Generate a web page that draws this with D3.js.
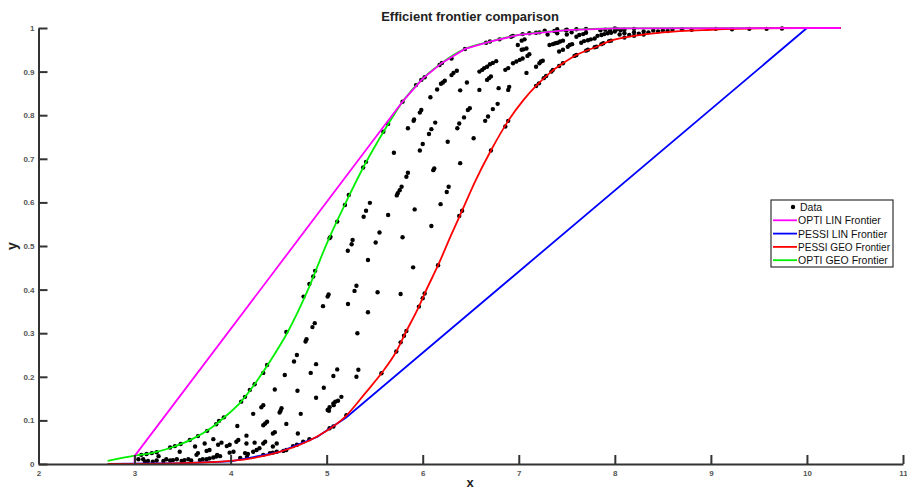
<!DOCTYPE html>
<html>
<head>
  <meta charset="utf-8">
  <title>Efficient frontier comparison</title>
  <script src="https://cdn.jsdelivr.net/npm/d3@7/dist/d3.min.js"></script>
  <style>
    body { margin: 0; background: #fff; }
    svg text { font-family: Arial, "Liberation Sans", sans-serif; }
  </style>
</head>
<body>
<svg id="chart" width="907" height="490"></svg>
<script>
// ---- data ----
var xTicks = [2, 3, 4, 5, 6, 7, 8, 9, 10, 11];
var yTicks = [0, 0.1, 0.2, 0.3, 0.4, 0.5, 0.6, 0.7, 0.8, 0.9, 1];
var yTickLabels = ["0", "0.1", "0.2", "0.3", "0.4", "0.5", "0.6", "0.7", "0.8", "0.9", "1"];

var legendNames = ["Data", "OPTI LIN Frontier", "PESSI LIN Frontier", "PESSI GEO Frontier", "OPTI GEO Frontier"];

// OPTI GEO frontier (green)
var optiGeo = [[2.72,0.007],[3.0,0.019],[3.2,0.026],[3.4,0.039],[3.6,0.057],[3.8,0.083],[3.95,0.11],
  [4.1,0.141],[4.25,0.183],[4.4,0.232],[4.6,0.305],[4.8,0.397],[5.0,0.505],[5.2,0.6],[5.4,0.688],
  [5.6,0.765],[5.8,0.834],[6.0,0.884],[6.2,0.92],[6.44,0.952],[6.7,0.969],[7.0,0.984],[7.5,0.995],
  [8.0,0.999],[10.35,1.0]];
// OPTI LIN frontier (magenta)
var optiLin = [[3.0,0.0],[3.0,0.018],[5.7,0.805],[5.8,0.834],[6.0,0.884],[6.2,0.92],[6.44,0.952],
  [6.7,0.969],[7.0,0.984],[7.5,0.995],[8.0,0.999],[10.35,1.0]];
// PESSI GEO frontier (red)
var pessiGeo = [[2.72,0.0],[3.5,0.002],[4.0,0.007],[4.5,0.027],[4.9,0.063],[5.2,0.11],[5.4,0.162],
  [5.57,0.208],[5.725,0.258],[5.83,0.305],[5.96,0.361],[6.02,0.391],[6.16,0.456],[6.3,0.527],
  [6.41,0.581],[6.55,0.65],[6.71,0.719],[6.89,0.787],[7.05,0.835],[7.18,0.867],[7.34,0.9],
  [7.46,0.919],[7.6,0.938],[7.81,0.957],[7.96,0.971],[8.2,0.982],[8.5,0.99],[9.0,0.996],
  [9.5,0.999],[10.35,1.0]];
// PESSI LIN frontier (blue)
var pessiLin = [[2.72,0.0],[3.5,0.002],[4.0,0.006],[4.5,0.027],[4.9,0.062],[5.0,0.077],[5.2,0.106],
  [10.0,1.0],[10.35,1.0]];

// scattered data points
var dataPts = [
  [3.04,0.011],[3.09,0.011],[3.11,0.005],[3.14,0.007],[3.19,0.005],[3.23,0.008],[3.25,0.018],
  [3.30,0.007],[3.33,0.011],[3.37,0.008],[3.40,0.009],[3.44,0.011],[3.47,0.028],[3.49,0.007],
  [3.52,0.009],[3.56,0.011],[3.59,0.008],[3.645,0.021],[3.66,0.025],[3.63,0.040],[3.68,0.009],
  [3.71,0.011],[3.75,0.011],[3.78,0.013],[3.82,0.015],[3.85,0.017],[3.89,0.018],[3.75,0.030],
  [3.78,0.032],[3.82,0.057],[3.73,0.047],[3.87,0.044],[3.905,0.049],[3.96,0.041],[3.99,0.044],
  [3.99,0.026],[4.03,0.028],[4.06,0.051],[4.08,0.055],[4.07,0.087],[4.165,0.065],[4.235,0.115],
  [4.235,0.028],[4.27,0.032],[4.30,0.036],[4.165,0.047],[4.25,0.049],[4.34,0.047],[4.36,0.051],
  [4.34,0.089],[4.36,0.093],[4.44,0.070],[4.46,0.073],[4.34,0.135],[4.32,0.13],[4.52,0.122],
  [4.53,0.128],[4.58,0.092],[4.48,0.047],[4.70,0.070],[4.73,0.115],[4.34,0.021],[4.41,0.025],
  [4.44,0.026],[4.48,0.028],[4.55,0.030],[4.58,0.032],[4.65,0.041],[4.69,0.044],[4.755,0.051],
  [4.82,0.057],[5.03,0.082],[5.07,0.086],[5.01,0.124],[5.03,0.13],[5.07,0.139],[5.09,0.143],
  [5.205,0.112],[4.15,0.025],[4.18,0.023],[4.44,0.040],[4.1,0.014],[4.17,0.016],[3.86,0.021],
  [4.962,0.362],[5.222,0.367],[4.876,0.323],[4.852,0.314],[5.32,0.30],[4.79,0.286],[4.78,0.281],
  [4.69,0.25],[4.66,0.235],[4.89,0.229],[4.834,0.209],[5.11,0.217],[5.07,0.202],[5.33,0.216],
  [5.31,0.20],[4.564,0.204],[4.46,0.171],[4.696,0.168],[4.97,0.175],[4.89,0.152],[5.153,0.154],
  [5.118,0.145],[5.073,0.135],[5.024,0.122],[4.51,0.118],[4.38,0.097],
  [5.905,0.787],[5.846,0.77],[6.13,0.783],[6.09,0.768],[6.065,0.757],[6.0,0.734],[5.97,0.719],
  [6.26,0.739],[5.70,0.714],[6.12,0.678],[6.11,0.674],[5.846,0.668],[5.83,0.659],[5.78,0.636],
  [5.76,0.628],[5.74,0.621],[5.73,0.616],[6.27,0.636],[6.25,0.624],[5.45,0.599],[5.41,0.581],
  [5.385,0.567],[5.916,0.584],[5.64,0.571],[6.186,0.596],[6.09,0.546],[5.55,0.531],[5.51,0.508],
  [5.27,0.514],[5.26,0.504],[5.22,0.489],[5.79,0.52],[5.43,0.468],[5.90,0.451],[5.31,0.409],
  [5.29,0.397],[5.53,0.394],[5.77,0.39],[5.02,0.389],[5.01,0.384],[5.43,0.348],
  [5.985,0.812],[5.97,0.806],[5.91,0.79],[6.49,0.816],[6.47,0.812],[6.43,0.795],[6.38,0.781],
  [6.36,0.77],[6.78,0.826],[6.73,0.814],[6.68,0.797],[6.65,0.787],[6.53,0.747],[6.39,0.69],
  [6.08,0.841],[6.15,0.859],[6.19,0.872],[6.21,0.875],[6.23,0.879],[6.30,0.892],[6.32,0.897],
  [6.355,0.902],[6.39,0.857],[6.46,0.875],[6.59,0.90],[6.62,0.904],[6.64,0.908],[6.67,0.911],
  [6.70,0.917],[6.73,0.92],[6.765,0.924],[6.59,0.858],[6.67,0.881],[6.69,0.885],[6.71,0.889],
  [6.79,0.862],[6.89,0.858],[6.90,0.865],[6.86,0.904],[6.89,0.908],[6.94,0.919],[6.975,0.923],
  [7.01,0.927],[7.04,0.93],[7.03,0.95],[7.05,0.951],[7.08,0.953],[6.99,0.961],[7.03,0.971],
  [7.06,0.974],[7.08,0.897],[7.09,0.936],[7.11,0.94],[7.18,0.911],[7.215,0.919],[7.23,0.923],
  [7.25,0.925],[7.32,0.961],[7.355,0.963],[7.38,0.965],[7.405,0.966],[7.43,0.969],[7.46,0.971],
  [7.42,0.946],[7.46,0.95],[7.27,0.994],[7.51,0.957],[7.53,0.961],[7.555,0.963],[7.60,0.98],
  [7.63,0.984],[7.67,0.986],[7.70,0.989],[7.65,0.966],[7.68,0.97],[7.72,0.972],[7.75,0.974],
  [7.79,0.976],[7.82,0.982],[7.86,0.984],[7.89,0.986],[7.925,0.988],[7.96,0.989],[8.0,0.992],
  [7.85,0.995],[7.9,0.996],[7.95,0.994],[8.02,0.997],[8.06,0.995],[8.1,0.996],
  [8.05,0.985],[8.1,0.988],[8.15,0.984],[8.2,0.99],[8.25,0.987],[8.3,0.992],[8.35,0.99],
  [8.4,0.994],[8.45,0.992],[8.5,0.995],[8.55,0.993],[8.1,0.978],[8.2,0.982],[8.3,0.985],
  [8.6,0.996],[8.7,0.997],[8.8,0.996],[9.05,0.998],[9.22,0.997],[9.4,0.998],[9.58,0.998],
  [9.74,0.999],[7.4,0.997],[7.5,0.996],[7.6,0.997],[7.7,0.998],[8.0,0.999],[8.2,0.998],
  [7.3,0.985],[7.4,0.988],[7.5,0.985],[7.55,0.99],
  // on the OPTI GEO frontier
  [3.07,0.021],[3.125,0.023],[3.18,0.025],[3.23,0.027],[3.37,0.038],[3.42,0.041],[3.48,0.046],
  [3.575,0.055],[3.66,0.064],[3.756,0.076],[3.85,0.091],[3.88,0.099],[3.93,0.107],[4.11,0.143],
  [4.15,0.154],[4.20,0.170],[4.25,0.183],[4.34,0.209],[4.38,0.227],[4.58,0.303],[4.76,0.384],
  [4.82,0.413],[4.86,0.43],[4.88,0.443],[5.03,0.518],[5.04,0.521],[5.11,0.556],[5.19,0.594],
  [5.23,0.617],[5.38,0.68],[5.41,0.693],[5.59,0.762],[5.64,0.78],[5.79,0.831],[5.93,0.869],
  [5.985,0.881],[6.02,0.887],[6.175,0.915],[6.20,0.92],[6.30,0.93],[6.44,0.952],[6.66,0.966],
  [6.70,0.969],[6.80,0.974],[6.92,0.98],[6.94,0.982],[7.04,0.986],[7.11,0.988],[7.18,0.989],
  [7.215,0.99],[7.37,0.993],[7.49,0.995],
  // on the PESSI GEO frontier
  [5.57,0.208],[5.725,0.258],[5.77,0.279],[5.805,0.294],[5.83,0.305],[5.96,0.361],[6.0,0.38],
  [6.02,0.391],[6.16,0.456],[6.38,0.569],[6.41,0.581],[6.71,0.719],[6.86,0.774],[6.89,0.787],
  [7.18,0.867],[7.21,0.873],[7.26,0.885],[7.285,0.89],[7.34,0.90],[7.355,0.904],[7.42,0.913],
  [7.46,0.919],[7.58,0.936],[7.60,0.938],[7.70,0.948],[7.72,0.95],[7.79,0.956],[7.81,0.957],
  [7.86,0.963],[7.88,0.965],[7.94,0.97],[7.96,0.971]
];

// ---- drawing ----
var chart = d3.select("#chart");
var axisColor = "#333";

var x = d3.scaleLinear().domain([2, 11]).range([38.5, 903]);
var y = d3.scaleLinear().domain([0, 1]).range([464, 28]);

// data dots (drawn first, frontier lines go over them)
chart.append("g").selectAll("circle").data(dataPts).enter().append("circle")
     .attr("cx", function(d) { return x(d[0]); })
     .attr("cy", function(d) { return y(d[1]); })
     .attr("r", 2.2)
     .style("fill", "black");

var lineLin = d3.line().x(function(d) { return x(d[0]); }).y(function(d) { return y(d[1]); });
var lineSmooth = d3.line().curve(d3.curveMonotoneX)
     .x(function(d) { return x(d[0]); }).y(function(d) { return y(d[1]); });

var series = [
  {pts: optiGeo,  color: "#00ee00", gen: lineSmooth},
  {pts: pessiLin, color: "#0000ff", gen: lineLin},
  {pts: pessiGeo, color: "#ff0000", gen: lineSmooth},
  {pts: optiLin,  color: "#ff00ff", gen: lineLin}
];
series.forEach(function(s) {
  chart.append("path").attr("d", s.gen(s.pts))
       .style("fill", "none").style("stroke", s.color).style("stroke-width", 1.8);
});

// axes
var xAxis = d3.axisBottom(x).tickValues(xTicks).tickSizeInner(-9).tickSizeOuter(0).tickPadding(6)
              .tickFormat(d3.format("d"));
var yAxis = d3.axisLeft(y).tickValues(yTicks).tickSizeInner(-9).tickSizeOuter(0).tickPadding(4)
              .tickFormat(function(d, i) { return yTickLabels[i]; });

var gx = chart.append("g").attr("transform", "translate(0,464)").call(xAxis);
var gy = chart.append("g").attr("transform", "translate(38.5,0)").call(yAxis);
[gx, gy].forEach(function(g) {
  g.select(".domain").style("stroke", axisColor).style("stroke-width", 2);
  g.selectAll(".tick line").style("stroke", axisColor).style("stroke-width", 2);
  g.selectAll(".tick text").style("font-size", "8px").style("fill", "#555")
   .style("font-weight", "bold").style("font-family", "Arial, 'Liberation Sans', sans-serif");
});

// title and axis labels
chart.append("text").attr("x", 470).attr("y", 21).text("Efficient frontier comparison")
     .style("font-size", "13px").style("font-weight", "bold").style("fill", "#222")
     .style("text-anchor", "middle");
chart.append("text").attr("transform", "translate(17,246) rotate(-90)").text("y")
     .style("font-size", "14px").style("font-weight", "bold").style("fill", "#222")
     .style("text-anchor", "middle");
chart.append("text").attr("x", 470).attr("y", 487).text("x")
     .style("font-size", "13px").style("font-weight", "bold").style("fill", "#222")
     .style("text-anchor", "middle");

// legend
var legColors = [null, "#ff00ff", "#0000ff", "#ff0000", "#00ee00"];
var leg = chart.append("g").attr("transform", "translate(771,200)");
leg.append("rect").attr("x", 0).attr("y", 0).attr("width", 122).attr("height", 67)
   .style("fill", "white").style("stroke", axisColor).style("stroke-width", 1.2);
legendNames.forEach(function(name, i) {
  var ry = 7 + i * 13.3;
  if (i === 0) {
    leg.append("circle").attr("cx", 22).attr("cy", ry).attr("r", 2.2).style("fill", "black");
  } else {
    leg.append("line").attr("x1", 2).attr("x2", 26).attr("y1", ry).attr("y2", ry)
       .style("stroke", legColors[i]).style("stroke-width", 1.8);
  }
  leg.append("text").attr("x", i === 0 ? 29 : 27).attr("y", ry + 4).text(name)
     .style("font-size", "10.5px").style("fill", "#111")
     .attr("textLength", null);
});
// keep the longest entry inside the box
leg.selectAll("text").each(function() {
  var w = this.getComputedTextLength();
  if (w > 92) d3.select(this).attr("textLength", 92).attr("lengthAdjust", "spacingAndGlyphs");
});
</script>
</body>
</html>
